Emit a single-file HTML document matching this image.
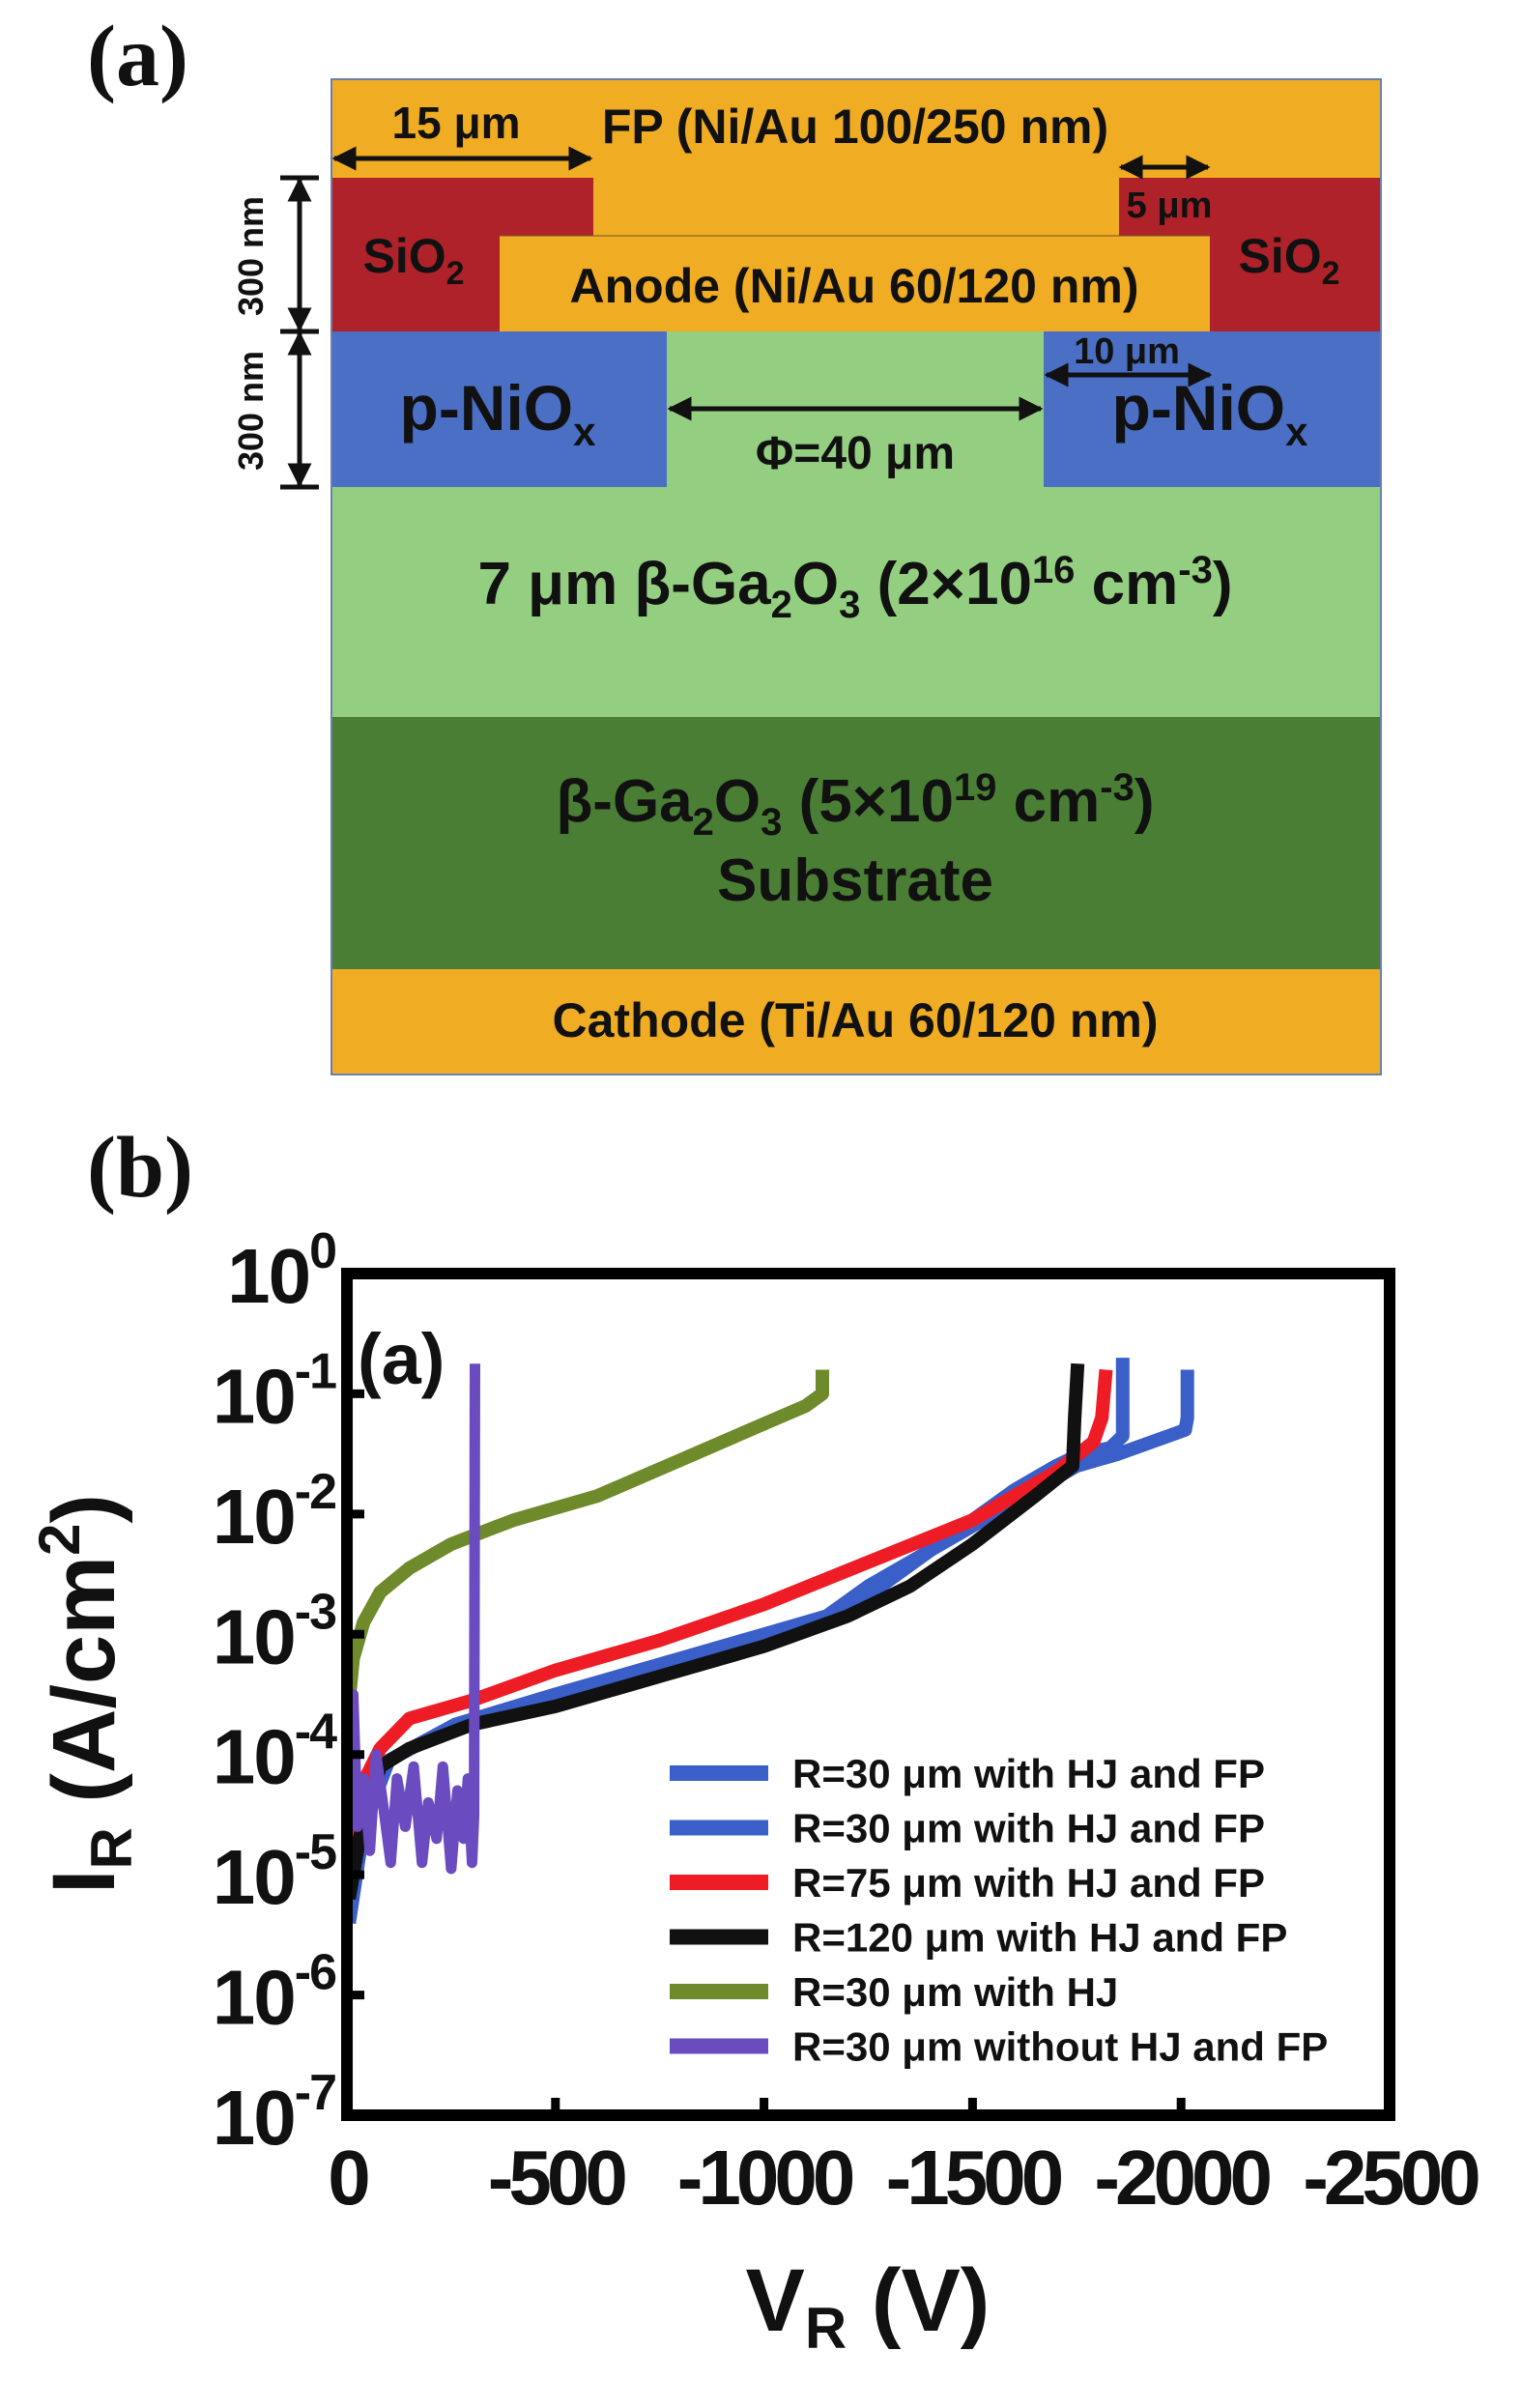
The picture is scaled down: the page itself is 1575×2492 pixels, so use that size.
<!DOCTYPE html>
<html><head><meta charset="utf-8">
<style>
html,body{margin:0;padding:0;background:#fff;}
svg{display:block;}
text{font-family:"Liberation Sans",Arial,sans-serif;font-weight:bold;fill:#111;}
.serif{font-family:"Liberation Serif","Times New Roman",serif;}
</style></head>
<body>
<svg id="fig" width="1575" height="2492" viewBox="0 0 1575 2492" xmlns="http://www.w3.org/2000/svg">
<defs>
<marker id="ah" viewBox="0 0 10 10" refX="9" refY="5" markerWidth="5" markerHeight="5" orient="auto-start-reverse"><path d="M0,0 L10,5 L0,10 z" fill="#111"/></marker>
</defs>
<text class="serif" x="90" y="88" font-size="90">(a)</text>
<g>
<rect x="343" y="82" width="1086" height="1030" fill="#f0ac22"/>
<polygon points="343,184 614,184 614,244 517,244 517,343 343,343" fill="#b0222a"/>
<polygon points="1158,184 1429,184 1429,343 1252,343 1252,244 1158,244" fill="#b0222a"/>
<rect x="343" y="343" width="347" height="161" fill="#4a6fc4"/>
<rect x="1080" y="343" width="349" height="161" fill="#4a6fc4"/>
<rect x="690" y="343" width="390" height="161" fill="#94ce80"/>
<rect x="343" y="504" width="1086" height="238" fill="#94ce80"/>
<rect x="343" y="742" width="1086" height="261" fill="#4a7e34"/>
<rect x="343" y="82" width="1086" height="1030" fill="none" stroke="#6a7fb0" stroke-width="2"/>
<line x1="517" y1="244" x2="1252" y2="244" stroke="#6a5a30" stroke-width="1"/>
<text x="472" y="143" font-size="46" text-anchor="middle">15 μm</text>
<text x="885" y="148" font-size="50" text-anchor="middle">FP (Ni/Au 100/250 nm)</text>
<line x1="346" y1="164" x2="611" y2="164" stroke="#111" stroke-width="5" marker-start="url(#ah)" marker-end="url(#ah)"/>
<line x1="1160" y1="173" x2="1250" y2="173" stroke="#111" stroke-width="5" marker-start="url(#ah)" marker-end="url(#ah)"/>
<text x="1210" y="225" font-size="38" text-anchor="middle">5 μm</text>
<text x="428" y="282" font-size="50" text-anchor="middle">SiO<tspan font-size="34" dy="12">2</tspan></text>
<text x="1334" y="282" font-size="50" text-anchor="middle">SiO<tspan font-size="34" dy="12">2</tspan></text>
<text x="884" y="313" font-size="50" text-anchor="middle">Anode (Ni/Au 60/120 nm)</text>
<text x="1166" y="376" font-size="38" text-anchor="middle">10 μm</text>
<line x1="1083" y1="388" x2="1252" y2="388" stroke="#111" stroke-width="5" marker-start="url(#ah)" marker-end="url(#ah)"/>
<text x="515" y="445" font-size="66" text-anchor="middle">p-NiO<tspan font-size="42" dy="16">x</tspan></text>
<text x="1252" y="445" font-size="66" text-anchor="middle">p-NiO<tspan font-size="42" dy="16">x</tspan></text>
<line x1="693" y1="423" x2="1077" y2="423" stroke="#111" stroke-width="5" marker-start="url(#ah)" marker-end="url(#ah)"/>
<text x="885" y="485" font-size="48" text-anchor="middle">Φ=40 μm</text>
<text x="885" y="625" font-size="62" text-anchor="middle">7 μm β-Ga<tspan font-size="40" dy="14">2</tspan><tspan dy="-14">O</tspan><tspan font-size="40" dy="14">3</tspan><tspan dy="-14"> (2×10</tspan><tspan font-size="40" dy="-22">16</tspan><tspan dy="22"> cm</tspan><tspan font-size="40" dy="-22">-3</tspan><tspan dy="22">)</tspan></text>
<text x="885" y="850" font-size="62" text-anchor="middle">β-Ga<tspan font-size="40" dy="14">2</tspan><tspan dy="-14">O</tspan><tspan font-size="40" dy="14">3</tspan><tspan dy="-14"> (5×10</tspan><tspan font-size="40" dy="-22">19</tspan><tspan dy="22"> cm</tspan><tspan font-size="40" dy="-22">-3</tspan><tspan dy="22">)</tspan></text>
<text x="885" y="932" font-size="62" text-anchor="middle">Substrate</text>
<text x="885" y="1073" font-size="50" text-anchor="middle">Cathode (Ti/Au 60/120 nm)</text>
<g stroke="#111" stroke-width="5">
<line x1="310" y1="186" x2="310" y2="341" marker-start="url(#ah)" marker-end="url(#ah)"/>
<line x1="310" y1="345" x2="310" y2="502" marker-start="url(#ah)" marker-end="url(#ah)"/>
<line x1="290" y1="184" x2="330" y2="184"/><line x1="290" y1="343" x2="330" y2="343"/><line x1="290" y1="504" x2="330" y2="504"/>
</g>
<text transform="translate(272,265) rotate(-90)" font-size="36" text-anchor="middle">300 nm</text>
<text transform="translate(272,425) rotate(-90)" font-size="36" text-anchor="middle">300 nm</text>
</g>
<text class="serif" x="90" y="1238" font-size="90">(b)</text>
<g id="chart"></g>
</svg>
<script>
const xTicks=[0,-500,-1000,-1500,-2000,-2500];
const yExps=[0,-1,-2,-3,-4,-5,-6,-7];
const seriesNames=["R=30 μm with HJ and FP","R=30 μm with HJ and FP","R=75 μm with HJ and FP","R=120 μm with HJ and FP","R=30 μm with HJ","R=30 μm without HJ and FP"];
const seriesColors=["#3a5fc8","#3a5fc8","#ee1c25","#111111","#6e8a2a","#6a4bc0"];
const blue1V=[-5,-40,-100,-260,-500,-800,-1000,-1200,-1300,-1400,-1500,-1600,-1700,-1760,-1830,-1860,-1860];
const blue1L=[-5.4,-4.6,-4.05,-3.75,-3.5,-3.2,-3.0,-2.8,-2.55,-2.3,-2.05,-1.8,-1.6,-1.5,-1.45,-1.35,-0.7];
const blue2V=[-5,-40,-100,-260,-500,-800,-1000,-1150,-1250,-1350,-1500,-1650,-1750,-1850,-2010,-2015,-2015];
const blue2L=[-5.4,-4.6,-4.05,-3.75,-3.5,-3.2,-3.0,-2.85,-2.6,-2.4,-2.1,-1.8,-1.6,-1.5,-1.3,-1.2,-0.8];
const redV=[-5,-30,-80,-150,-300,-500,-750,-1000,-1250,-1500,-1700,-1790,-1810,-1820];
const redL=[-5.0,-4.3,-3.95,-3.7,-3.55,-3.3,-3.05,-2.75,-2.4,-2.05,-1.65,-1.4,-1.2,-0.8];
const blackV=[-5,-30,-80,-150,-300,-500,-750,-1000,-1200,-1350,-1500,-1650,-1740,-1745,-1752];
const blackL=[-5.2,-4.7,-4.1,-3.95,-3.75,-3.6,-3.35,-3.1,-2.85,-2.6,-2.25,-1.85,-1.6,-1.2,-0.75];
const greenV=[-5,-15,-40,-80,-150,-250,-400,-600,-800,-1000,-1100,-1140,-1140];
const greenL=[-3.55,-3.2,-2.9,-2.65,-2.45,-2.25,-2.05,-1.85,-1.55,-1.25,-1.1,-1.0,-0.8];
const purpleV=[-5,-15,-25,-40,-55,-70,-90,-105,-120,-140,-160,-180,-195,-215,-230,-250,-265,-280,-290,-300,-305,-307];
const purpleL=[-4.3,-3.5,-4.6,-4.2,-4.8,-4.0,-4.5,-4.9,-4.2,-4.6,-4.1,-4.9,-4.4,-4.7,-4.1,-4.95,-4.3,-4.7,-4.2,-4.9,-4.5,-0.75];
const seriesV=[blue1V,blue2V,redV,blackV,greenV,purpleV];
const seriesL=[blue1L,blue2L,redL,blackL,greenL,purpleL];
const drawOrder=[4,0,1,2,3,5];

const NS="http://www.w3.org/2000/svg";
const L=359,T=1318,R=1438,B=2189;
const xs=v=>L+(-v)/2500*(R-L);
const ys=e=>T+(0-e)/7*(B-T);
const g=document.getElementById('chart');
function mk(tag,attrs){const e=document.createElementNS(NS,tag);for(const k in attrs)e.setAttribute(k,attrs[k]);return e;}

drawOrder.forEach(i=>{
  const pts=seriesV[i].map((v,j)=>xs(v).toFixed(1)+','+ys(seriesL[i][j]).toFixed(1)).join(' ');
  const pl=mk('polyline',{points:pts,fill:'none',stroke:seriesColors[i],'stroke-width':i==5?11:14,'stroke-linejoin':'round'});
  
  
  g.appendChild(pl);
});
const frame=mk('rect',{x:L,y:T,width:R-L,height:B-T,fill:'none',stroke:'#000','stroke-width':12});


g.appendChild(frame);

yExps.forEach(e=>{
  const y=ys(e);
  const tk=mk('line',{x1:L,x2:L+18,y1:y,y2:y,stroke:'#000','stroke-width':9});
  
  
  g.appendChild(tk);
  const t=mk('text',{x:L-12,y:y+30,'font-size':80,'text-anchor':'end','letter-spacing':'-2'});
  
  
  t.innerHTML='10<tspan font-size="52" dy="-36">'+e+'</tspan>';
  g.appendChild(t);
});
xTicks.forEach(v=>{
  const x=xs(v);
  const tk=mk('line',{x1:x,x2:x,y1:B,y2:B-18,stroke:'#000','stroke-width':9});
  
  
  g.appendChild(tk);
  const t=mk('text',{x:x,y:B+92,'font-size':80,'text-anchor':'middle','letter-spacing':'-5'});
  
  
  t.textContent=v;
  g.appendChild(t);
});
const ann=mk('text',{x:370,y:1432,'font-size':74});


ann.textContent='(a)';
g.appendChild(ann);
const yt=mk('text',{transform:'translate(118,1753) rotate(-90)','font-size':92,'text-anchor':'middle'});


yt.innerHTML='I<tspan font-size="60" dy="18">R</tspan><tspan dy="-18"> (A/cm</tspan><tspan font-size="60" dy="-36">2</tspan><tspan dy="36">)</tspan>';
g.appendChild(yt);
const xt=mk('text',{x:898,y:2412,'font-size':92,'text-anchor':'middle'});


xt.innerHTML='V<tspan font-size="60" dy="18">R</tspan><tspan dy="-18"> (V)</tspan>';
g.appendChild(xt);

seriesNames.forEach((n,i)=>{
  const y=1835+i*56.5;
  const ln=mk('line',{x1:693,x2:795,y1:y,y2:y,stroke:seriesColors[i],'stroke-width':16});
  
  
  g.appendChild(ln);
  const t=mk('text',{x:820,y:y+15,'font-size':42});
  
  
  t.textContent=n;
  g.appendChild(t);
});
</script>
</body></html>
